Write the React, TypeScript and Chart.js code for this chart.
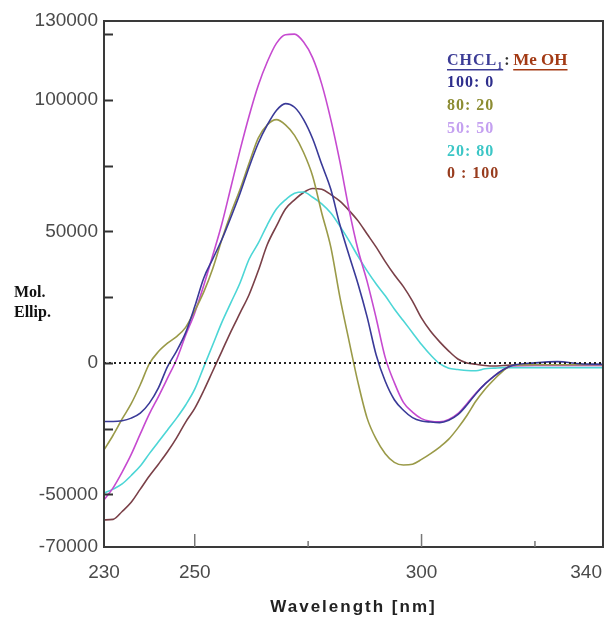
import React, { useEffect, useRef } from "react";
import { Chart, registerables } from "chart.js";

Chart.register(...registerables);

const wavelengths = [
  230, 232, 234, 236, 238, 240, 242, 244, 246, 248, 250, 252, 254, 256, 258, 260,
  262, 264, 266, 268, 270, 272, 274, 276, 278, 280, 282, 284, 286, 288, 290, 292,
  294, 296, 298, 300, 302, 304, 306, 308, 310, 312, 314, 316, 318, 320, 325, 330,
  335, 340,
];

const series100_0 = [
  -22300, -22300, -22000, -21000, -19100, -15300, -9500, -1400, 4500, 11500, 21400, 32300,
  39600, 47000, 55500, 64500, 74500, 83500, 90500, 96000, 98600, 97200, 92500, 85200,
  75500, 66000, 52500, 41000, 30000, 17500, 3000, -7000, -14000, -18000, -20800, -22100,
  -22500, -22700, -21800, -19700, -16000, -11700, -8000, -5000, -2600, -1000, 0, 500,
  -300, -500,
];

const series80_20 = [
  -33100, -27500, -21300, -15500, -8300, -300, 4300, 7500, 10000, 13500, 19800, 27000,
  36000, 47000, 57000, 66000, 76000, 85500, 90500, 92500, 90500, 86500, 80000, 71000,
  57000, 44000, 25000, 8500, -7500, -21000, -29000, -34500, -37800, -38800, -38500,
  -36700, -34500, -32000, -29000, -24800, -20000, -14500, -10000, -6300, -3000, -1000,
  -700, -700, -700, -700,
];

const series50_50 = [
  -52100, -47500, -41500, -34800, -27000, -19400, -12800, -5800, 1300, 10500, 19000,
  29500, 41000, 53000, 67000, 81000, 94000, 105500, 114500, 121500, 124800, 125000,
  122000, 116000, 106000, 92500, 76500, 58500, 43000, 31000, 17000, 2000, -7500,
  -15000, -18700, -21200, -22200, -22400, -21500, -19300, -15500, -11500, -8000, -5000,
  -2600, -1200, -1000, -1000, -1000, -1000,
];

const series20_80 = [
  -49500, -48000, -46000, -42800, -39200, -34500, -30000, -25500, -21000, -16000,
  -10000, -1500, 7000, 15500, 23000, 30500, 39500, 45500, 52500, 58500, 62000, 64500,
  65000, 63000, 60500, 57000, 52000, 46500, 40500, 35000, 30000, 25500, 20500, 16000,
  11500, 7000, 3000, -300, -2000, -2500, -2900, -3000, -2200, -2000, -1800, -1800,
  -1800, -1800, -1800, -1800,
];

const series0_100 = [
  -59700, -59500, -56500, -53000, -48000, -43000, -38500, -33800, -28500, -22500,
  -17300, -10500, -3000, 4500, 12000, 19000, 26000, 35000, 45000, 52000, 58500, 62000,
  64800, 66300, 66000, 64000, 61500, 58000, 54000, 49000, 44000, 38500, 33500, 29000,
  23500, 17000, 12000, 8000, 4500, 1500, 0, -500, -1000, -1200, -1000, -800, -700,
  -700, -700, -700,
];

const seriesLabels = ["100: 0", "80: 20", "50: 50", "20: 80", "0 : 100"];
const legendTitleLeft = "CHCL";
const legendTitleSub = "1";
const legendTitleRight = "Me OH";

const yTickLabels = [130000, 100000, 50000, 0, -50000, -70000];
const yTickMarks = [-50000, -25000, 0, 25000, 50000, 75000, 100000, 125000];
const xTickLabels = [230, 250, 300, 340];
const xTickMarksLong = [250, 300];
const xTickMarksShort = [275, 325];

const xTitle = "Wavelength [nm]";
const yTitleLines = ["Mol.", "Ellip."];

const lineColors = ["#3a3a98", "#9a9a48", "#c64ad0", "#4cd6d6", "#7a4048"];
const legendColors = ["#2e2e8c", "#8c8c32", "#c4a0f0", "#3cc6c6", "#983c1e"];

const framePlugin = {
  id: "frame",
  afterDraw(chart: any) {
    const { ctx, chartArea } = chart;
    const xs = chart.scales.x;
    const ys = chart.scales.y;
    const { left, right, top, bottom } = chartArea;
    ctx.save();
    // box
    ctx.strokeStyle = "#3a3a3a";
    ctx.lineWidth = 2;
    ctx.strokeRect(left, top, right - left, bottom - top);
    // y tick marks
    ctx.lineWidth = 2;
    ctx.strokeStyle = "#333";
    yTickMarks.forEach((v) => {
      const y = Math.round(ys.getPixelForValue(v)) + 0.5;
      ctx.beginPath();
      ctx.moveTo(left, y);
      ctx.lineTo(left + 9, y);
      ctx.stroke();
    });
    // x tick marks
    ctx.strokeStyle = "#777";
    ctx.lineWidth = 1.5;
    xTickMarksLong.forEach((v) => {
      const x = xs.getPixelForValue(v);
      ctx.beginPath();
      ctx.moveTo(x, bottom);
      ctx.lineTo(x, bottom - 13);
      ctx.stroke();
    });
    xTickMarksShort.forEach((v) => {
      const x = xs.getPixelForValue(v);
      ctx.beginPath();
      ctx.moveTo(x, bottom);
      ctx.lineTo(x, bottom - 6);
      ctx.stroke();
    });
    // y tick labels
    ctx.fillStyle = "#4a4a4a";
    ctx.font = '19px "Liberation Sans", Arial, sans-serif';
    ctx.textAlign = "right";
    ctx.textBaseline = "middle";
    yTickLabels.forEach((v) => {
      ctx.fillText(String(v), left - 6, ys.getPixelForValue(v));
    });
    // x tick labels
    ctx.textAlign = "center";
    xTickLabels.forEach((v) => {
      const w = ctx.measureText(String(v)).width;
      let x = xs.getPixelForValue(v);
      x = Math.min(x, chart.width - w / 2 - 14);
      ctx.fillText(String(v), x, bottom + 26);
    });
    // x title
    ctx.fillStyle = "#222";
    ctx.font = 'bold 17px "Liberation Sans", Arial, sans-serif';
    (ctx as any).letterSpacing = "2px";
    ctx.fillText(xTitle, (left + right) / 2, bottom + 60);
    (ctx as any).letterSpacing = "0px";
    // y title
    ctx.fillStyle = "#111";
    ctx.font = 'bold 16px "Liberation Serif", "Times New Roman", serif';
    ctx.textAlign = "left";
    ctx.fillText(yTitleLines[0], 14, 293);
    ctx.fillText(yTitleLines[1], 14, 313);
    // legend
    const lx = 447;
    let ly = 61;
    const serifBold = 'bold 16px "Liberation Serif", "Times New Roman", serif';
    ctx.font = serifBold;
    (ctx as any).letterSpacing = "1px";
    ctx.fillStyle = "#3c3c96";
    ctx.fillText(legendTitleLeft, lx, ly);
    const w1 = ctx.measureText(legendTitleLeft).width;
    ctx.font = 'bold 10px "Liberation Serif", "Times New Roman", serif';
    ctx.fillText(legendTitleSub, lx + w1, ly + 5);
    const w2 = ctx.measureText(legendTitleSub).width;
    const endLeft = lx + w1 + w2;
    ctx.fillRect(lx, ly + 8, endLeft - lx, 1.5);
    ctx.font = serifBold;
    ctx.fillStyle = "#333";
    ctx.fillText(":", endLeft + 1, ly);
    const rx = endLeft + 10;
    ctx.fillStyle = "#a33a14";
    (ctx as any).letterSpacing = "0px";
    ctx.font = 'bold 17px "Liberation Serif", "Times New Roman", serif';
    ctx.fillText(legendTitleRight, rx, ly);
    const w3 = ctx.measureText(legendTitleRight).width;
    ctx.fillRect(rx, ly + 8, w3, 1.5);
    ctx.font = serifBold;
    (ctx as any).letterSpacing = "1px";
    seriesLabels.forEach((t, i) => {
      ly = 83 + i * 22.8;
      ctx.fillStyle = legendColors[i];
      ctx.fillText(t, lx, ly);
    });
    (ctx as any).letterSpacing = "0px";
    ctx.restore();
  },
};

export default function App() {
  const ref = useRef<HTMLCanvasElement | null>(null);
  useEffect(() => {
    if (!ref.current) return;
    const all = [series100_0, series80_20, series50_50, series20_80, series0_100];
    const datasets: any[] = all.map((s, i) => ({
      label: seriesLabels[i],
      data: wavelengths.map((w, j) => ({ x: w, y: s[j] })),
      borderColor: lineColors[i],
      borderWidth: 1.6,
      pointRadius: 0,
      fill: false,
      cubicInterpolationMode: "monotone",
    }));
    datasets.unshift({
      label: "zero",
      data: [
        { x: 230, y: 0 },
        { x: 340, y: 0 },
      ],
      borderColor: "#222",
      borderWidth: 2,
      borderDash: [2, 3],
      pointRadius: 0,
      fill: false,
    });
    const chart = new Chart(ref.current, {
      type: "line",
      data: { datasets },
      options: {
        animation: false,
        responsive: false,
        maintainAspectRatio: false,
        layout: { padding: { left: 104, top: 21, right: 13, bottom: 70 } },
        plugins: { legend: { display: false }, tooltip: { enabled: false } },
        scales: {
          x: {
            type: "linear",
            min: 230,
            max: 340,
            ticks: { display: false },
            grid: { display: false },
            border: { display: false },
            afterFit: (s: any) => {
              s.height = 0;
            },
          },
          y: {
            type: "linear",
            min: -70000,
            max: 130000,
            ticks: { display: false },
            grid: { display: false },
            border: { display: false },
            afterFit: (s: any) => {
              s.width = 0;
            },
          },
        },
      },
      plugins: [framePlugin],
    });
    return () => chart.destroy();
  }, []);
  return (
    <div style={{ position: "fixed", left: 0, top: 0, width: 616, height: 617, background: "#fff" }}>
      <canvas ref={ref} width={616} height={617} style={{ width: 616, height: 617 }} />
    </div>
  );
}
